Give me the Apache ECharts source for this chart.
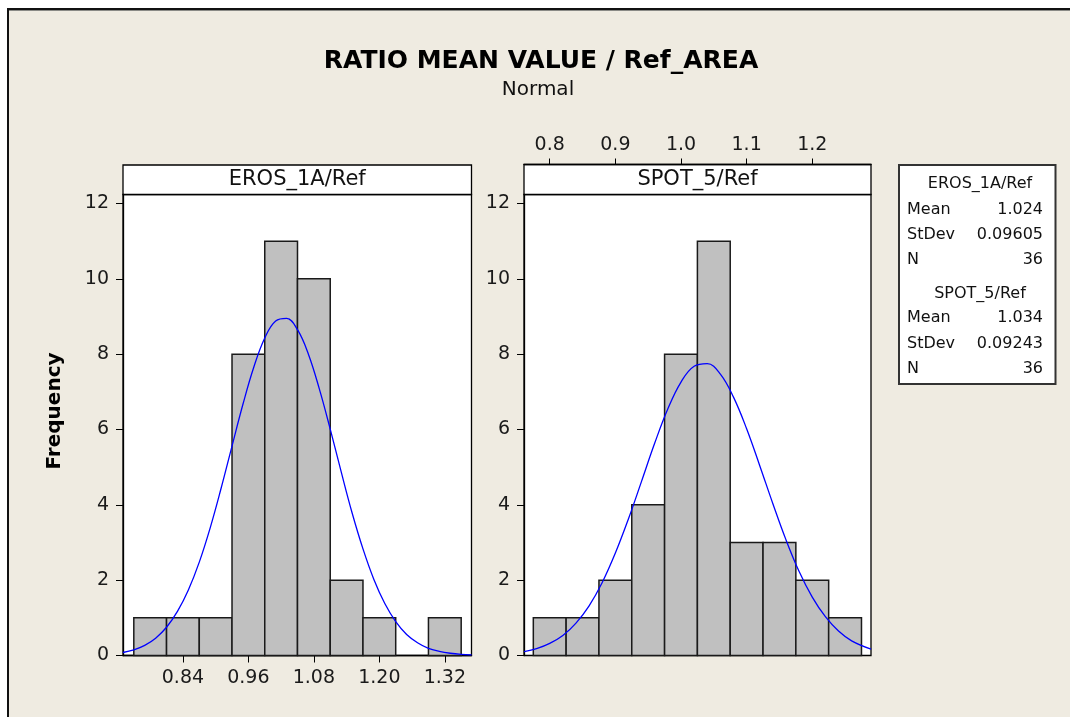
<!DOCTYPE html>
<html>
<head>
<meta charset="utf-8">
<script src="https://cdn.jsdelivr.net/npm/echarts@6/dist/echarts.min.js"></script>
<style>
html,body{margin:0;padding:0;background:#ffffff;}
#chart{width:1070px;height:717px;}
</style>
</head>
<body>
<div id="chart"></div>
<script>
// ---- data ----
const titleText = 'RATIO MEAN VALUE / Ref_AREA';
const subtitleText = 'Normal';
const yLabel = 'Frequency';
const panelNames = ['EROS_1A/Ref', 'SPOT_5/Ref'];

const erosBinCenters = [0.78, 0.84, 0.90, 0.96, 1.02, 1.08, 1.14, 1.20, 1.26, 1.32];
const erosCounts     = [1, 1, 1, 8, 11, 10, 2, 1, 0, 1];
const erosBinWidth = 0.06;
const erosTicks = [0.84, 0.96, 1.08, 1.20, 1.32];

const spotBinCenters = [0.80, 0.85, 0.90, 0.95, 1.00, 1.05, 1.10, 1.15, 1.20, 1.25];
const spotCounts     = [1, 1, 2, 4, 8, 11, 3, 3, 2, 1];
const spotBinWidth = 0.05;
const spotTicks = [0.8, 0.9, 1.0, 1.1, 1.2];

// fitted normal curves
const erosCurveX = [0.73, 0.75, 0.77, 0.79, 0.81, 0.83, 0.85, 0.87, 0.89, 0.91, 0.93, 0.95, 0.97, 0.99, 1.01, 1.03, 1.05, 1.07, 1.09, 1.11, 1.13, 1.15, 1.17, 1.19, 1.21, 1.23, 1.25, 1.27, 1.29, 1.31, 1.33, 1.35, 1.369];
const erosCurveY = [0.08, 0.15, 0.27, 0.46, 0.75, 1.17, 1.74, 2.48, 3.39, 4.44, 5.56, 6.67, 7.66, 8.43, 8.88, 8.95, 8.65, 8.00, 7.08, 6.01, 4.88, 3.79, 2.83, 2.02, 1.38, 0.90, 0.56, 0.34, 0.19, 0.11, 0.06, 0.03, 0.015];
const spotCurveX = [0.761, 0.78, 0.80, 0.82, 0.84, 0.86, 0.88, 0.90, 0.92, 0.94, 0.96, 0.98, 1.00, 1.02, 1.04, 1.06, 1.08, 1.10, 1.12, 1.14, 1.16, 1.18, 1.20, 1.22, 1.24, 1.26, 1.2895];
const spotCurveY = [0.10, 0.18, 0.32, 0.53, 0.86, 1.32, 1.94, 2.72, 3.63, 4.63, 5.64, 6.55, 7.26, 7.68, 7.75, 7.47, 6.86, 6.02, 5.04, 4.03, 3.07, 2.23, 1.55, 1.03, 0.65, 0.39, 0.17];

const statsRows = [
  {name: 'EROS_1A/Ref', mean: '1.024', stdev: '0.09605', n: '36'},
  {name: 'SPOT_5/Ref',  mean: '1.034', stdev: '0.09243', n: '36'}
];

// ---- build ----
const FONT = 'DejaVu Sans';
const chart = echarts.init(document.getElementById('chart'), null, {renderer: 'canvas'});

function binData(centers, counts, w) {
  const out = [];
  centers.forEach((c, i) => { if (counts[i] > 0) out.push([c - w / 2, c + w / 2, counts[i]]); });
  return out;
}
function renderBar(params, api) {
  const lo = api.value(0), hi = api.value(1), c = api.value(2);
  const p0 = api.coord([lo, c]);
  const p1 = api.coord([hi, 0]);
  return {
    type: 'rect',
    shape: {x: p0[0], y: p0[1], width: p1[0] - p0[0], height: p1[1] - p0[1]},
    style: {fill: '#C0C0C0', stroke: '#1a1a1a', lineWidth: 1.5}
  };
}
function zip(a, b) { return a.map((v, i) => [v, b[i]]); }

const axisTextStyle = {fontFamily: FONT, fontSize: 19, color: '#1a1a1a'};

const yAxisCommon = {
  type: 'value', min: 0, max: 12.24, interval: 2,
  axisLine: {show: true, lineStyle: {color: '#000', width: 1.3}},
  axisTick: {show: true, inside: false, length: 7, lineStyle: {color: '#000'}},
  axisLabel: Object.assign({show: true, margin: 14, showMaxLabel: false}, axisTextStyle),
  splitLine: {show: false}
};

const G1 = {left: 123, top: 194.5, width: 348.5, height: 461};
const G2 = {left: 524, top: 194.5, width: 347, height: 461};

const graphics = [
  {type: 'rect', shape: {x: 9, y: 10, width: 1061, height: 707}, style: {fill: '#EFEBE1'}, z: -10, silent: true},
  {type: 'rect', shape: {x: 7, y: 8, width: 1063, height: 2}, style: {fill: '#111'}, z: -9},
  {type: 'rect', shape: {x: 7, y: 8, width: 2, height: 709}, style: {fill: '#111'}, z: -9},
  {type: 'rect', shape: {x: 9, y: 10, width: 1061, height: 1}, style: {fill: '#8a8a86'}, z: -9},
  {type: 'text', x: 541, y: 61, style: {text: titleText, fontFamily: FONT, fontWeight: 'bold', fontSize: 25, fill: '#000', align: 'center', verticalAlign: 'middle'}},
  {type: 'text', x: 538, y: 90, style: {text: subtitleText, fontFamily: FONT, fontSize: 20, fill: '#111', align: 'center', verticalAlign: 'middle'}},
  {type: 'text', x: 55, y: 411, rotation: Math.PI / 2, style: {text: yLabel, fontFamily: FONT, fontWeight: 'bold', fontSize: 20, fill: '#000', align: 'center', verticalAlign: 'middle'}},
  {type: 'rect', shape: {x: G1.left, y: 165, width: G1.width, height: 29.5}, style: {fill: '#fff', stroke: '#000', lineWidth: 1.3}},
  {type: 'text', x: G1.left + G1.width / 2, y: 180, style: {text: panelNames[0], fontFamily: FONT, fontSize: 21, fill: '#111', align: 'center', verticalAlign: 'middle'}},
  {type: 'rect', shape: {x: G2.left, y: 164.5, width: G2.width, height: 30}, style: {fill: '#fff', stroke: '#000', lineWidth: 1.3}},
  {type: 'text', x: G2.left + G2.width / 2, y: 180, style: {text: panelNames[1], fontFamily: FONT, fontSize: 21, fill: '#111', align: 'center', verticalAlign: 'middle'}},
  {type: 'rect', shape: {x: 899, y: 165, width: 156.5, height: 219}, style: {fill: '#fff', stroke: '#333', lineWidth: 2}}
];

const rowY = [[184, 209.5, 235, 260], [294, 317.5, 343.5, 369]];
statsRows.forEach((r, k) => {
  const ys = rowY[k];
  const st = {fontFamily: FONT, fontSize: 16, fill: '#111', verticalAlign: 'middle'};
  graphics.push({type: 'text', x: 980, y: ys[0], style: Object.assign({text: r.name, align: 'center'}, st)});
  graphics.push({type: 'text', x: 907, y: ys[1], style: Object.assign({text: 'Mean', align: 'left'}, st)});
  graphics.push({type: 'text', x: 1043, y: ys[1], style: Object.assign({text: r.mean, align: 'right'}, st)});
  graphics.push({type: 'text', x: 907, y: ys[2], style: Object.assign({text: 'StDev', align: 'left'}, st)});
  graphics.push({type: 'text', x: 1043, y: ys[2], style: Object.assign({text: r.stdev, align: 'right'}, st)});
  graphics.push({type: 'text', x: 907, y: ys[3], style: Object.assign({text: 'N', align: 'left'}, st)});
  graphics.push({type: 'text', x: 1043, y: ys[3], style: Object.assign({text: r.n, align: 'right'}, st)});
});

const option = {
  backgroundColor: '#ffffff',
  animation: false,
  graphic: graphics,
  grid: [
    Object.assign({show: true, backgroundColor: '#fff', borderColor: '#000', borderWidth: 1.3, containLabel: false, outerBoundsMode: 'none'}, G1),
    Object.assign({show: true, backgroundColor: '#fff', borderColor: '#000', borderWidth: 1.3, containLabel: false, outerBoundsMode: 'none'}, G2)
  ],
  xAxis: [
    {
      type: 'value', gridIndex: 0, min: 0.7302, max: 1.3689, position: 'bottom',
      axisLine: {show: true, onZero: false, lineStyle: {color: '#000', width: 1.3}},
      axisTick: {show: true, length: 7, customValues: erosTicks, lineStyle: {color: '#000'}},
      axisLabel: Object.assign({show: true, margin: 13, customValues: erosTicks, formatter: v => v.toFixed(2)}, axisTextStyle),
      splitLine: {show: false}
    },
    {
      type: 'value', gridIndex: 1, min: 0.7608, max: 1.2895, position: 'top', offset: 30,
      axisLine: {show: true, onZero: false, lineStyle: {color: '#000', width: 1.3}},
      axisTick: {show: true, length: 6, customValues: spotTicks, lineStyle: {color: '#000'}},
      axisLabel: Object.assign({show: true, margin: 10, customValues: spotTicks, formatter: v => v.toFixed(1)}, axisTextStyle),
      splitLine: {show: false}
    }
  ],
  yAxis: [
    Object.assign({gridIndex: 0}, yAxisCommon),
    Object.assign({gridIndex: 1}, yAxisCommon)
  ],
  series: [
    {type: 'custom', xAxisIndex: 0, yAxisIndex: 0, renderItem: renderBar, encode: {x: [0, 1], y: 2}, data: binData(erosBinCenters, erosCounts, erosBinWidth), z: 2},
    {type: 'custom', xAxisIndex: 1, yAxisIndex: 1, renderItem: renderBar, encode: {x: [0, 1], y: 2}, data: binData(spotBinCenters, spotCounts, spotBinWidth), z: 2},
    {type: 'line', xAxisIndex: 0, yAxisIndex: 0, data: zip(erosCurveX, erosCurveY), smooth: 0.4, showSymbol: false, lineStyle: {color: '#0000FF', width: 1.3}, z: 3},
    {type: 'line', xAxisIndex: 1, yAxisIndex: 1, data: zip(spotCurveX, spotCurveY), smooth: 0.4, showSymbol: false, lineStyle: {color: '#0000FF', width: 1.3}, z: 3}
  ]
};
chart.setOption(option);
</script>
</body>
</html>
